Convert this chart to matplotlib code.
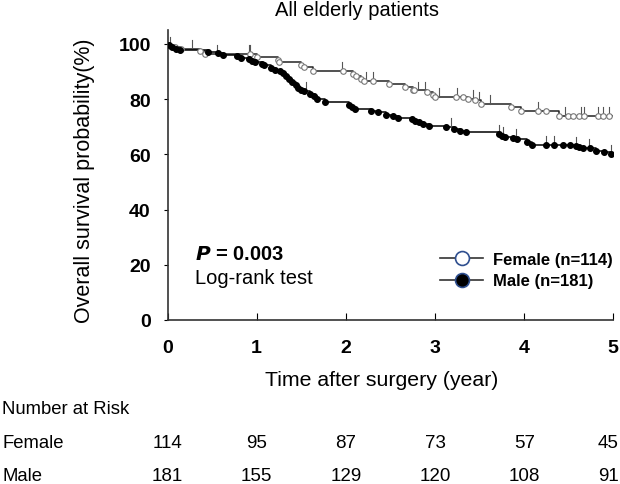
import numpy as np
import matplotlib
matplotlib.use("Agg")
import matplotlib.pyplot as plt
from matplotlib.lines import Line2D

plt.rcParams['font.family'] = ['Liberation Sans', 'DejaVu Sans']

title = "All elderly patients"
xlabel = "Time after surgery (year)"
ylabel = "Overall survival probability(%)"
groups = ["Female", "Male"]
legend_labels = ["Female (n=114)", "Male (n=181)"]

# Female KM points (time in years, survival %)
female_t = [0.03, 0.08, 0.15, 0.37, 0.42, 0.93, 1.00, 1.24, 1.25, 1.50, 1.53, 1.63,
            1.97, 2.08, 2.12, 2.17, 2.20, 2.31, 2.49, 2.67, 2.76, 2.77, 2.91, 2.98,
            3.00, 3.24, 3.32, 3.37, 3.45, 3.52, 3.86, 3.97, 4.16, 4.25, 4.39, 4.50,
            4.55, 4.62, 4.68, 4.83, 4.89, 4.96]
female_s = [99.1, 98.7, 98.2, 97.3, 96.4, 96.4, 95.2, 94.3, 93.4, 92.5, 91.6, 90.3,
            90.3, 89.1, 88.2, 87.3, 86.6, 86.6, 85.6, 84.4, 83.4, 83.1, 82.5, 81.5,
            80.7, 80.7, 80.7, 80.0, 79.5, 78.3, 77.1, 75.6, 75.6, 75.6, 73.9, 73.9,
            73.9, 73.9, 73.9, 73.9, 73.9, 73.9]
female_cens = [0.03, 0.27, 0.55, 0.91, 0.93, 1.96, 2.23, 2.31, 2.81, 2.89, 3.05, 3.25,
               3.43, 3.50, 3.62, 4.16, 4.46, 4.64, 4.68, 4.83, 4.89, 4.96]

# Male KM points
male_t = [0.02, 0.05, 0.09, 0.14, 0.45, 0.57, 0.62, 0.78, 0.82, 0.92, 0.95, 0.98,
          1.06, 1.08, 1.16, 1.21, 1.26, 1.30, 1.33, 1.36, 1.40, 1.44, 1.47, 1.50,
          1.53, 1.60, 1.64, 1.68, 1.77, 2.04, 2.07, 2.10, 2.28, 2.36, 2.45, 2.53,
          2.59, 2.74, 2.78, 2.82, 2.87, 2.94, 3.13, 3.21, 3.28, 3.35, 3.72, 3.75,
          3.79, 3.88, 3.92, 4.03, 4.09, 4.25, 4.34, 4.44, 4.52, 4.59, 4.62, 4.66,
          4.74, 4.81, 4.90, 4.98]
male_s = [99.4, 98.9, 98.3, 97.8, 97.2, 96.7, 96.1, 95.6, 95.0, 94.5, 93.9, 93.4,
          92.8, 92.3, 91.2, 90.6, 90.0, 89.5, 88.4, 87.3, 86.2, 85.1, 84.0, 83.4,
          82.8, 81.7, 81.2, 80.0, 79.0, 77.9, 77.2, 76.5, 75.8, 75.2, 74.4, 73.8,
          73.2, 72.7, 72.1, 71.6, 71.0, 70.4, 69.8, 69.2, 68.6, 68.1, 67.4, 66.8,
          66.4, 66.0, 65.4, 64.5, 63.4, 63.4, 63.4, 63.3, 63.3, 62.9, 62.6, 62.4,
          62.1, 61.3, 60.7, 60.0]
male_cens = [1.56, 3.18, 3.72, 3.77, 3.91, 4.25, 4.34, 4.59, 4.73, 4.98]

risk_times = [0, 1, 2, 3, 4, 5]
female_risk = [114, 95, 87, 73, 57, 45]
male_risk = [181, 155, 129, 120, 108, 91]

W, H = 620, 485
fig = plt.figure(figsize=(6.2, 4.85), dpi=100)
ax = fig.add_axes([167.5 / W, 1 - 321 / H, (613 - 167.5) / W, 290 / H])


def surv_at(ts, ss, t):
    ts = np.asarray(ts)
    idx = np.searchsorted(ts, t, side='right') - 1
    return 100.0 if idx < 0 else ss[idx]


def draw(ts, ss, cens, mfc, mec, ms, lc):
    xs = np.concatenate([[0], ts, [5.0]])
    ys = np.concatenate([[100], ss, [ss[-1]]])
    ax.step(xs, ys, where='post', color=lc, lw=1.1, zorder=2)
    ax.plot(ts, ss, ls='none', marker='o', ms=ms, mfc=mfc, mec=mec, mew=0.8, zorder=3)
    for c in cens:
        s = surv_at(ts, ss, c)
        ax.plot([c, c], [s, s + 3.2], color='#555555', lw=0.8, zorder=2)


draw(female_t, female_s, female_cens, 'white', '#777777', 4.0, '#222222')
draw(male_t, male_s, male_cens, 'black', 'black', 4.2, 'black')

ax.set_xlim(0, 5)
ax.set_ylim(0, 105)
for sp in ['top', 'right']:
    ax.spines[sp].set_visible(False)
for sp in ['left', 'bottom']:
    ax.spines[sp].set_linewidth(1.2)
    ax.spines[sp].set_color('#333333')

ax.set_yticks([0, 20, 40, 60, 80, 100])
ax.set_xticks(risk_times)
ax.tick_params(axis='y', direction='out', length=3, pad=9, labelsize=14)
ax.tick_params(axis='x', direction='in', length=5, pad=14, labelsize=14)
for lab in ax.get_xticklabels() + ax.get_yticklabels():
    lab.set_fontweight('bold')

fig.text(357 / W, 1 - 10 / H, title, ha='center', va='center', fontsize=14.5)
fig.text(85 / W, 1 - 181 / H, ylabel, ha='center', va='center', rotation=90, fontsize=15.5)
fig.text(382 / W, 1 - 381 / H, xlabel, ha='center', va='center', fontsize=15.3)

fig.text(195 / W, 1 - 254 / H, r"$\bfit{P}$" + " = 0.003", ha='left', va='center',
         fontsize=14.5, fontweight='bold')
fig.text(195 / W, 1 - 279 / H, "Log-rank test", ha='left', va='center', fontsize=14.5)

handles = [Line2D([], [], color='#333333', lw=1.2, marker='o', ms=10, mfc='white', mec='#2F4F8F', mew=1.2),
           Line2D([], [], color='#333333', lw=1.2, marker='o', ms=10, mfc='black', mec='#2F4F8F', mew=1.2)]
leg = fig.legend(handles, legend_labels, loc='center left',
                 bbox_to_anchor=(440 / W, 1 - 271 / H), frameon=False,
                 prop={'weight': 'bold', 'size': 12}, handlelength=2.6,
                 handletextpad=0.6, labelspacing=0.4, borderpad=0, borderaxespad=0)

fig.text(2 / W, 1 - 410 / H, "Number at Risk", ha='left', va='center', fontsize=13.3)
for row_y, name, vals in [(444, groups[0], female_risk), (477, groups[1], male_risk)]:
    fig.text(2 / W, 1 - row_y / H, name, ha='left', va='center', fontsize=13.3)
    for t, v in zip(risk_times, vals):
        xpx = 167.5 + t * 89.2
        if t == 5:
            xpx -= 5
        fig.text(xpx / W, 1 - row_y / H, str(v), ha='center', va='center', fontsize=13.5)

fig.savefig("out.png", dpi=100)
